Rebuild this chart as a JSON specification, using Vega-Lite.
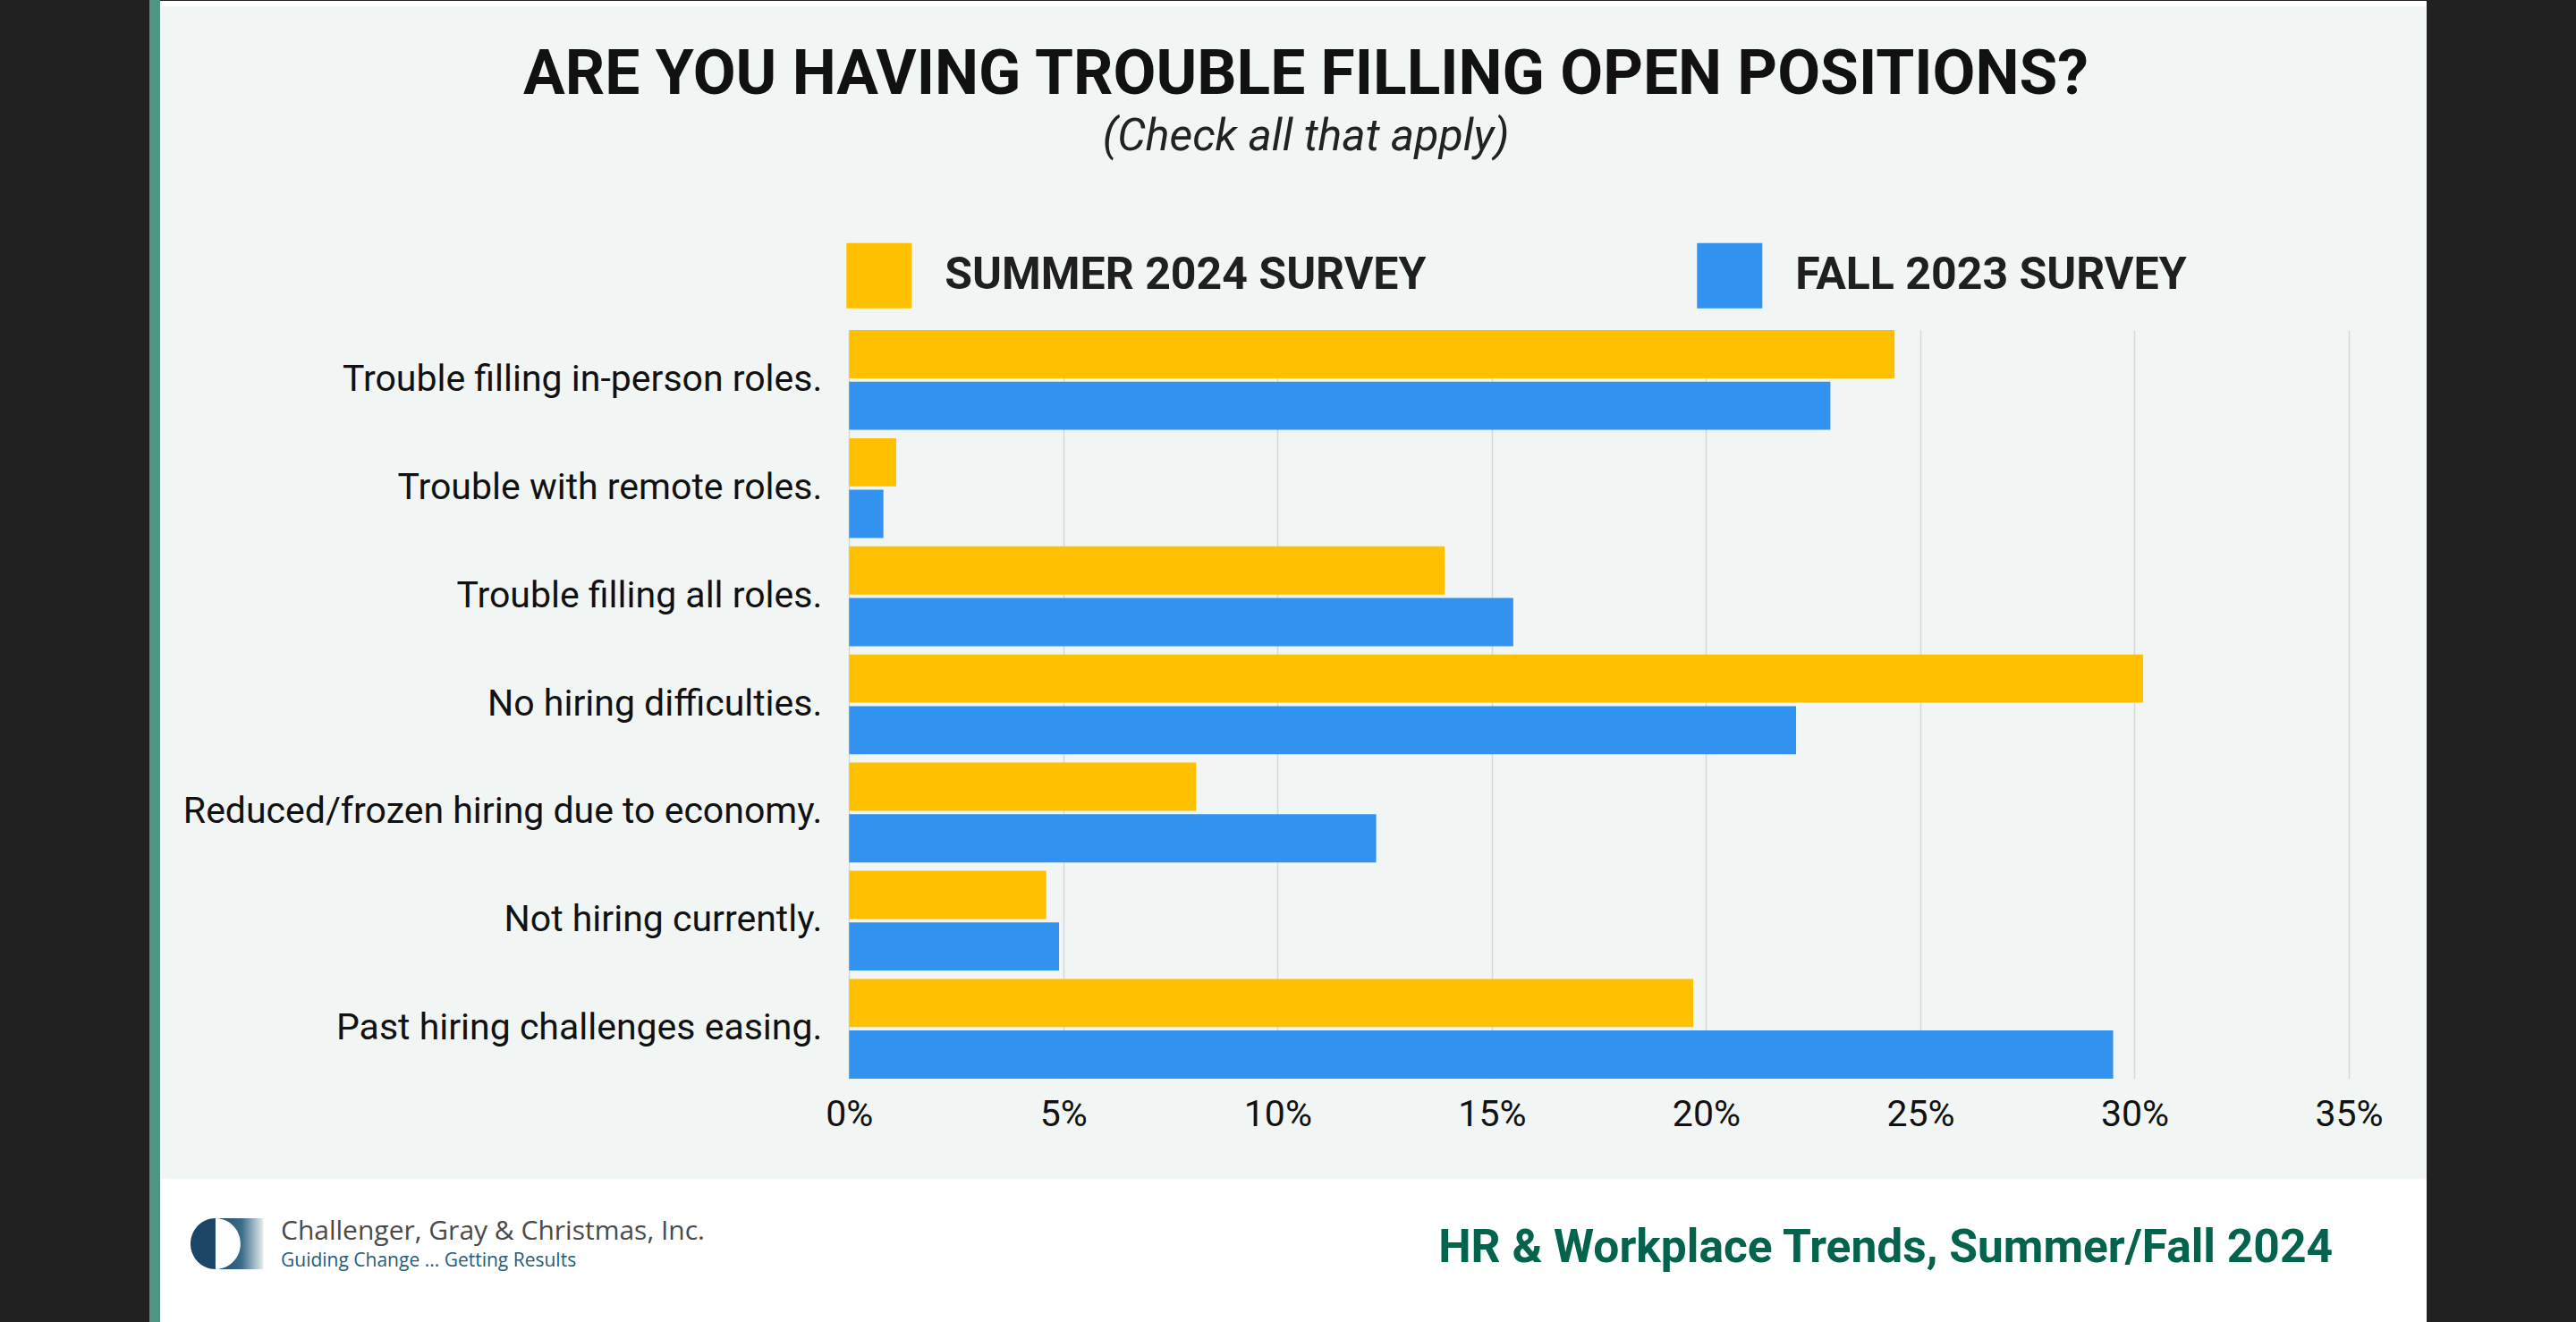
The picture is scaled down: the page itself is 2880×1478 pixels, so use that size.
{
  "$schema": "https://vega.github.io/schema/vega-lite/v6.json",
  "background": "#f1f5f4",
  "padding": 0,
  "spacing": 0,
  "resolve": {"scale": {"color": "independent"}, "legend": {"color": "independent"}},
  "config": {"view": {"stroke": null}, "font": "Roboto", "concat": {"spacing": 0}},
  "hconcat": [
    {"width": 167, "height": 1478, "view": {"fill": "#212121", "stroke": null}, "data": {"values": []}, "mark": "point"},
    {"width": 12, "height": 1478, "view": {"fill": "#4e9683", "stroke": null}, "data": {"values": []}, "mark": "point"},
    {
      "spacing": 0,
      "resolve": {"scale": {"color": "independent"}, "legend": {"color": "independent"}},
      "vconcat": [
        {"width": 2534, "height": 1, "view": {"fill": "#212121", "stroke": null}, "data": {"values": []}, "mark": "point"},
        {"width": 2534, "height": 6, "view": {"fill": "#ffffff", "stroke": null}, "data": {"values": []}, "mark": "point"},
        {"width": 1, "height": 42, "data": {"values": []}, "mark": "point"},
        {
          "width": 2447,
          "height": 837,
          "title": {
            "text": "ARE YOU HAVING TROUBLE FILLING OPEN POSITIONS?",
            "subtitle": "(Check all that apply)",
            "anchor": "middle",
            "frame": "group",
            "orient": "top",
            "dx": 57.5,
            "offset": 93,
            "font": "Roboto",
            "fontSize": 69.5,
            "fontWeight": "bold",
            "color": "#111111",
            "subtitleFont": "Roboto",
            "subtitleFontSize": 50,
            "subtitleFontStyle": "italic",
            "subtitleFontWeight": "normal",
            "subtitleColor": "#222222",
            "subtitlePadding": 8,
            "limit": 2500
          },
          "data": {
            "values": [
              {"category": "Trouble filling in-person roles.", "survey": "SUMMER 2024 SURVEY", "pct": 24.4},
              {"category": "Trouble filling in-person roles.", "survey": "FALL 2023 SURVEY", "pct": 22.9},
              {"category": "Trouble with remote roles.", "survey": "SUMMER 2024 SURVEY", "pct": 1.1},
              {"category": "Trouble with remote roles.", "survey": "FALL 2023 SURVEY", "pct": 0.8},
              {"category": "Trouble filling all roles.", "survey": "SUMMER 2024 SURVEY", "pct": 13.9},
              {"category": "Trouble filling all roles.", "survey": "FALL 2023 SURVEY", "pct": 15.5},
              {"category": "No hiring difficulties.", "survey": "SUMMER 2024 SURVEY", "pct": 30.2},
              {"category": "No hiring difficulties.", "survey": "FALL 2023 SURVEY", "pct": 22.1},
              {"category": "Reduced/frozen hiring due to economy.", "survey": "SUMMER 2024 SURVEY", "pct": 8.1},
              {"category": "Reduced/frozen hiring due to economy.", "survey": "FALL 2023 SURVEY", "pct": 12.3},
              {"category": "Not hiring currently.", "survey": "SUMMER 2024 SURVEY", "pct": 4.6},
              {"category": "Not hiring currently.", "survey": "FALL 2023 SURVEY", "pct": 4.9},
              {"category": "Past hiring challenges easing.", "survey": "SUMMER 2024 SURVEY", "pct": 19.7},
              {"category": "Past hiring challenges easing.", "survey": "FALL 2023 SURVEY", "pct": 29.5}
            ]
          },
          "mark": {"type": "bar"},
          "encoding": {
            "y": {
              "field": "category",
              "type": "nominal",
              "sort": null,
              "scale": {"paddingInner": 0.077, "paddingOuter": 0},
              "axis": {
                "title": null,
                "domain": false,
                "ticks": false,
                "tickSize": 0,
                "grid": false,
                "labelFont": "Roboto",
                "labelFontSize": 41,
                "labelColor": "#111111",
                "labelAlign": "right",
                "labelPadding": -739.8,
                "labelLimit": 1000,
                "minExtent": 0,
                "maxExtent": 0
              }
            },
            "yOffset": {
              "field": "survey",
              "type": "nominal",
              "sort": ["SUMMER 2024 SURVEY", "FALL 2023 SURVEY"],
              "scale": {"paddingInner": 0.066, "paddingOuter": 0}
            },
            "x": {
              "field": "pct",
              "type": "quantitative",
              "scale": {"domain": [-16.08, 35], "nice": false, "zero": false},
              "axis": {
                "values": [0, 5, 10, 15, 20, 25, 30, 35],
                "labelExpr": "datum.value + '%'",
                "title": null,
                "domain": false,
                "ticks": false,
                "tickSize": 0,
                "grid": true,
                "gridColor": "#d5d9d9",
                "gridWidth": 1.5,
                "labelFont": "Roboto",
                "labelFontSize": 41,
                "labelColor": "#111111",
                "labelPadding": 20,
                "labelFlush": false,
                "minExtent": 112,
                "maxExtent": 112
              }
            },
            "color": {
              "field": "survey",
              "type": "nominal",
              "scale": {"domain": ["SUMMER 2024 SURVEY", "FALL 2023 SURVEY"], "range": ["#ffc000", "#3292f0"]},
              "legend": {
                "title": null,
                "orient": "none",
                "legendX": 767.3,
                "legendY": -97.3,
                "direction": "horizontal",
                "columns": 2,
                "symbolType": "square",
                "symbolSize": 5329,
                "symbolStrokeWidth": 0,
                "labelFont": "Roboto",
                "labelFontSize": 50,
                "labelFontWeight": "bold",
                "labelColor": "#1f1f1f",
                "labelLimit": 1000,
                "labelOffset": 37,
                "columnPadding": 302,
                "padding": 0
              }
            }
          }
        },
        {
          "spacing": 0,
          "hconcat": [
            {"width": 34, "height": 160, "view": {"fill": "#ffffff", "stroke": null}, "data": {"values": []}, "mark": "point"},
            {
              "width": 81,
              "height": 160,
              "view": {"fill": "#ffffff", "stroke": null},
              "data": {"values": [{"logo": "Challenger, Gray & Christmas"}]},
              "layer": [
                {"mark": {"type": "point", "shape": "M -0.31 -0.889 A 0.69 0.704 0 0 0 -0.31 0.519 Z", "size": 6561, "filled": true, "fill": "#1b4566", "opacity": 1, "strokeWidth": 0}},
                {"mark": {"type": "point", "shape": "M -0.31 -0.889 L 1 -0.889 L 1 0.519 L -0.31 0.519 A 0.69 0.704 0 0 0 -0.31 -0.889 Z", "size": 6561, "filled": true, "opacity": 1, "strokeWidth": 0,
                  "fill": {"gradient": "linear", "x1": 0, "y1": 0, "x2": 1, "y2": 0, "stops": [{"offset": 0, "color": "#1b4a6b"}, {"offset": 0.55, "color": "#3a6d89"}, {"offset": 1, "color": "#e3ebee"}]}}}
              ]
            },
            {
              "width": 1200,
              "height": 160,
              "view": {"fill": "#ffffff", "stroke": null},
              "title": {
                "text": "Challenger, Gray & Christmas, Inc.",
                "subtitle": "Guiding Change ... Getting Results",
                "anchor": "start",
                "frame": "group",
                "orient": "top",
                "offset": -102.4,
                "dx": 20,
                "font": "Open Sans",
                "fontSize": 30,
                "fontWeight": "normal",
                "color": "#4a4a4a",
                "subtitleFont": "Open Sans",
                "subtitleFontSize": 21,
                "subtitleFontWeight": "normal",
                "subtitleColor": "#245e7c",
                "subtitlePadding": 7.7,
                "limit": 1200
              },
              "data": {"values": []},
              "mark": "point"
            },
            {
              "width": 1219,
              "height": 160,
              "view": {"fill": "#ffffff", "stroke": null},
              "title": {
                "text": "HR & Workplace Trends, Summer/Fall 2024",
                "anchor": "end",
                "frame": "group",
                "orient": "top",
                "offset": -103,
                "dx": -105,
                "font": "Roboto",
                "fontSize": 51.5,
                "fontWeight": "bold",
                "color": "#03634d",
                "limit": 1500
              },
              "data": {"values": []},
              "mark": "point"
            }
          ]
        }
      ]
    },
    {"width": 167, "height": 1478, "view": {"fill": "#212121", "stroke": null}, "data": {"values": []}, "mark": "point"}
  ]
}
